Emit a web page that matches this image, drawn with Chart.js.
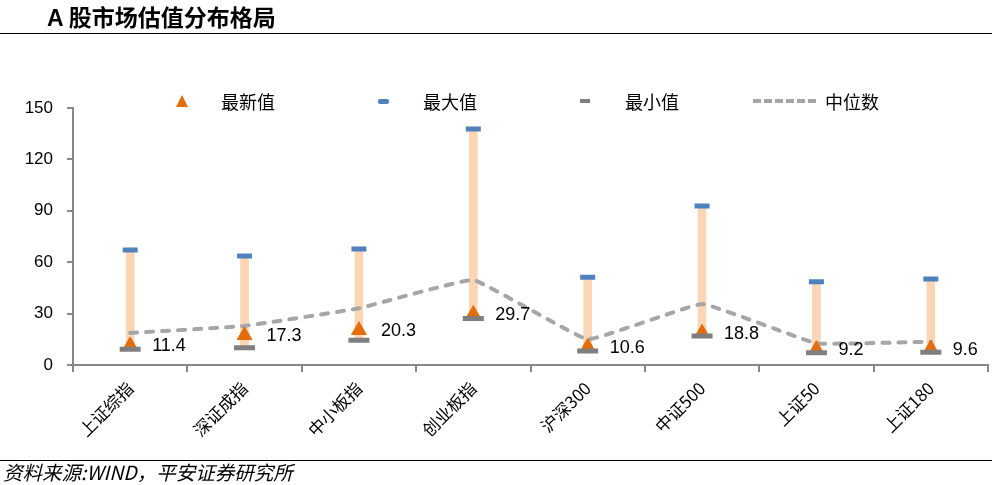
<!DOCTYPE html>
<html>
<head>
<meta charset="utf-8">
<script src="https://cdn.jsdelivr.net/npm/chart.js@4.4.0/dist/chart.umd.min.js"></script>
<style>
  html, body { margin: 0; padding: 0; background: #fff; }
  body { width: 992px; height: 485px; overflow: hidden; position: relative; font-family: "Noto Sans CJK SC", "Liberation Sans", sans-serif; }
  #chartWrap { position: absolute; left: 0; top: 0; width: 992px; height: 485px; }
  #title { position: absolute; left: 47px; top: 1px; font-size: 23px; font-weight: bold; color: #000; line-height: 30px; white-space: nowrap; }
  #title .latin { font-family: "Liberation Sans", Arial, sans-serif; }
  #topLine { position: absolute; left: 0; top: 33px; width: 992px; height: 1px; background: #000; }
  #bottomLine { position: absolute; left: 0; top: 460px; width: 992px; height: 1px; background: #000; }
  #footer { position: absolute; left: 3px; top: 460px; font-size: 19.5px; font-style: italic; color: #000; line-height: 24px; white-space: nowrap; }
  .legend { position: absolute; top: 0; left: 0; width: 992px; height: 0; }
  .lg-text { position: absolute; top: 89px; font-size: 18px; line-height: 24px; color: #000; white-space: nowrap; }
  .tri { position: absolute; width: 0; height: 0; border-left: 6px solid transparent; border-right: 6px solid transparent; border-bottom: 12px solid #E46C0A; }
  .box { position: absolute; }
  .dash { position: absolute; height: 0; border-top: 4px dashed #A6A6A6; }
</style>
</head>
<body>
<div id="chartWrap"><canvas id="c" width="992" height="485"></canvas></div>
<div id="title"><span class="latin">A</span> 股市场估值分布格局</div>
<div id="topLine"></div>
<div id="bottomLine"></div>
<div id="footer">资料来源:WIND，平安证券研究所</div>
<div class="legend">
  <div class="tri" style="left:176px; top:95px;"></div>
  <div class="lg-text" style="left:221px;">最新值</div>
  <div class="box" style="left:378px; top:99px; width:11px; height:5px; background:#4F81BD; border-radius:2px;"></div>
  <div class="lg-text" style="left:423px;">最大值</div>
  <div class="box" style="left:580px; top:99px; width:10px; height:4px; background:#7F7F7F;"></div>
  <div class="lg-text" style="left:625px;">最小值</div>
  <div class="dash" style="left:753px; top:99px; width:63px;"></div>
  <div class="lg-text" style="left:825px;">中位数</div>
</div>
<script>
const categories = ['上证综指', '深证成指', '中小板指', '创业板指', '沪深300', '中证500', '上证50', '上证180'];
const latestValues = [11.4, 17.3, 20.3, 29.7, 10.6, 18.8, 9.2, 9.6];
const maxValues = [67.1, 63.6, 67.7, 137.8, 51.2, 92.8, 48.6, 50.2];
const minValues = [9.2, 10.1, 14.4, 27.2, 8.2, 16.9, 7.2, 7.4];
const medianValues = [18.7, 22.8, 33.1, 49.6, 15.0, 35.6, 12.7, 13.6];
const yTickValues = [0, 30, 60, 90, 120, 150];

const rangeData = categories.map((c, i) => [minValues[i], maxValues[i]]);

const latestLabelPlugin = {
  id: 'latestLabels',
  afterDatasetsDraw(chart) {
    const meta = chart.getDatasetMeta(2);
    const ctx = chart.ctx;
    ctx.save();
    ctx.font = '18px "Liberation Sans", Arial, sans-serif';
    ctx.fillStyle = '#000';
    ctx.textAlign = 'left';
    ctx.textBaseline = 'middle';
    meta.data.forEach((pt, i) => {
      ctx.fillText(latestValues[i].toFixed(1), pt.x + 22, pt.y + 1);
    });
    ctx.restore();
  }
};

new Chart(document.getElementById('c'), {
  type: 'bar',
  data: {
    labels: categories,
    datasets: [
      {
        type: 'bar',
        label: '区间',
        data: rangeData,
        backgroundColor: '#FCD5B5',
        borderWidth: 0,
        barThickness: 8,
        order: 5
      },
      {
        type: 'line',
        label: '中位数',
        data: medianValues,
        borderColor: '#A6A6A6',
        borderWidth: 4,
        borderDash: [7, 9],
        borderCapStyle: 'round',
        tension: 0.08,
        pointRadius: 0,
        fill: false,
        order: 4
      },
      {
        type: 'line',
        label: '最新值',
        data: latestValues,
        showLine: false,
        pointStyle: 'triangle',
        pointRadius: 8.5,
        pointBackgroundColor: '#E46C0A',
        pointBorderColor: '#E46C0A',
        pointBorderWidth: 1,
        order: 3
      },
      {
        type: 'line',
        label: '最大值',
        data: maxValues,
        showLine: false,
        pointStyle: 'line',
        pointRadius: 7.5,
        pointBorderColor: '#4F81BD',
        pointBorderWidth: 5,
        order: 2
      },
      {
        type: 'line',
        label: '最小值',
        data: minValues,
        showLine: false,
        pointStyle: 'line',
        pointRadius: 10.5,
        pointBorderColor: '#7F7F7F',
        pointBorderWidth: 5,
        order: 1
      }
    ]
  },
  options: {
    responsive: false,
    animation: false,
    devicePixelRatio: 1,
    layout: { autoPadding: false, padding: { top: 108, bottom: 40, left: 0, right: 4 } },
    plugins: {
      legend: { display: false },
      tooltip: { enabled: false },
      title: { display: false }
    },
    scales: {
      x: {
        grid: { display: true, drawOnChartArea: false, drawTicks: true, tickLength: 7, color: '#888', lineWidth: 2, offset: true },
        border: { display: true, color: '#888', width: 2 },
        ticks: {
          minRotation: 45, maxRotation: 45, autoSkip: false,
          color: '#000', padding: 6,
          font: { size: 17, family: '"Noto Sans CJK SC", sans-serif' }
        },
        afterFit: (s) => { s.height = 80; s.paddingLeft = 0; s.paddingRight = 0; }
      },
      y: {
        min: 0, max: 150,
        afterBuildTicks: (s) => { s.ticks = yTickValues.map(v => ({ value: v })); },
        grid: { display: true, drawOnChartArea: false, drawTicks: true, tickLength: 6, color: '#888', lineWidth: 2 },
        border: { display: true, color: '#888', width: 2 },
        ticks: {
          color: '#000', padding: 14,
          font: { size: 17, family: '"Liberation Sans", Arial, sans-serif' }
        },
        afterFit: (s) => { s.width = 73; s.paddingTop = 0; s.paddingBottom = 0; }
      }
    }
  },
  plugins: [latestLabelPlugin]
});
</script>
</body>
</html>
